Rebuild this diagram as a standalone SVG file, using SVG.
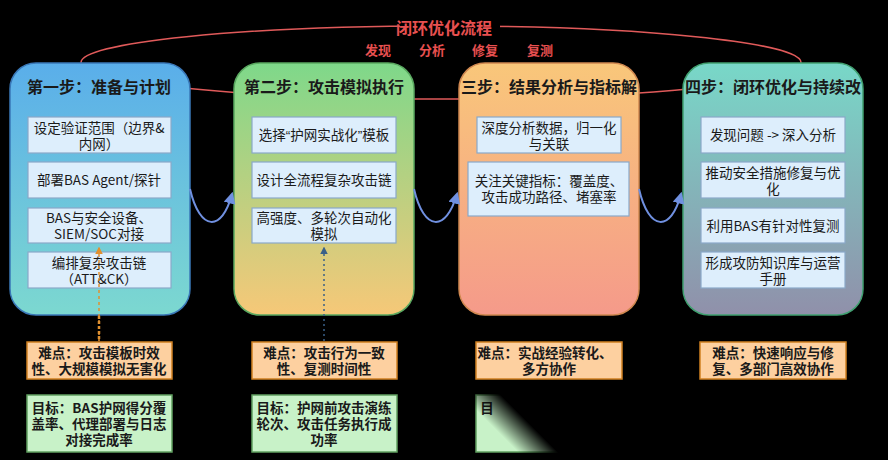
<svg xmlns="http://www.w3.org/2000/svg" width="888" height="460" viewBox="0 0 888 460">
<defs>
<linearGradient id="g1" x1="0" y1="0" x2="0" y2="1"><stop offset="0" stop-color="#5aaeea"/><stop offset="1" stop-color="#7cd8d0"/></linearGradient>
<linearGradient id="g2" x1="0" y1="0" x2="0" y2="1"><stop offset="0" stop-color="#7ed88a"/><stop offset="1" stop-color="#f6c878"/></linearGradient>
<linearGradient id="g3" x1="0" y1="0" x2="0" y2="1"><stop offset="0" stop-color="#f9c77a"/><stop offset="1" stop-color="#f59a8a"/></linearGradient>
<linearGradient id="g4" x1="0" y1="0" x2="0" y2="1"><stop offset="0" stop-color="#78d8c8"/><stop offset="1" stop-color="#9090aa"/></linearGradient>
<linearGradient id="fade" gradientUnits="userSpaceOnUse" x1="500" y1="434" x2="520" y2="414"><stop offset="0" stop-color="#000" stop-opacity="0"/><stop offset="1" stop-color="#000" stop-opacity="1"/></linearGradient>
<marker id="ab" viewBox="0 0 10 10" refX="8" refY="5" markerWidth="6" markerHeight="6" orient="auto"><path d="M0,0 L10,5 L0,10 z" fill="#7090e0"/></marker>
<marker id="ao" viewBox="0 0 10 10" refX="8" refY="5" markerWidth="5" markerHeight="5" orient="auto"><path d="M0,0 L10,5 L0,10 z" fill="#e09030"/></marker>
<marker id="an" viewBox="0 0 10 10" refX="8" refY="5" markerWidth="5" markerHeight="5" orient="auto"><path d="M0,0 L10,5 L0,10 z" fill="#3a6088"/></marker>
</defs>
<style>
text{font-family:"Noto Sans CJK SC","Noto Sans",sans-serif;text-anchor:middle;fill:#1a1a1a}
.hd{font-size:16px;font-weight:bold}
.sb{fill:#ddeefc;stroke:#8aa8c8;stroke-width:1.2}
.st{font-size:13.5px}
.df{fill:#fdd0a0;stroke:#d08020;stroke-width:1.5}
.gl{fill:#c8f2c8;stroke:#60a060;stroke-width:1.5}
.bt{font-size:13.5px;font-weight:bold}
.rd{fill:#e85050;font-weight:bold}
.cv{fill:none;stroke:#7090e0;stroke-width:2}
.q{font-family:"Liberation Sans",sans-serif}
</style>
<rect width="888" height="460" fill="#000"/>
<g id="loop">
<ellipse cx="441" cy="62.5" rx="360" ry="36.5" fill="none" stroke="#e05a5a" stroke-width="1.5"/>
<rect x="400" y="18" width="100" height="20" fill="#000"/>
<text x="444" y="34" class="rd" font-size="16">闭环优化流程</text>
<text x="378" y="55" class="rd" font-size="13">发现</text>
<text x="432" y="55" class="rd" font-size="13">分析</text>
<text x="485" y="55" class="rd" font-size="13">修复</text>
<text x="540" y="55" class="rd" font-size="13">复测</text>
</g>
<g id="stage1">
<rect x="10" y="63" width="180" height="252" rx="26" fill="url(#g1)" stroke="#3a78b8" stroke-width="1.5"/>
<text x="99" y="93" class="hd">第一步：准备与计划</text>
<rect x="28" y="117" width="143" height="36" class="sb"/>
<text x="99" y="133" class="st">设定验证范围（边界&amp;</text>
<text x="99" y="149" class="st">内网）</text>
<rect x="28" y="162" width="143" height="36" class="sb"/>
<text x="99" y="185" class="st">部署BAS Agent/探针</text>
<rect x="28" y="208" width="143" height="35" class="sb"/>
<text x="99" y="223" class="st">BAS与安全设备、</text>
<text x="99" y="239" class="st">SIEM/SOC对接</text>
<rect x="28" y="252" width="143" height="36" class="sb"/>
<text x="99" y="268" class="st">编排复杂攻击链</text>
<text x="99" y="284" class="st">（ATT&amp;CK）</text>
</g>
<g id="stage2">
<rect x="234" y="63" width="180" height="252" rx="26" fill="url(#g2)" stroke="#5aa860" stroke-width="1.5"/>
<text x="324" y="93" class="hd">第二步：攻击模拟执行</text>
<rect x="252" y="117" width="144" height="36" class="sb"/>
<text x="324" y="140" class="st">选择<tspan class="q">“</tspan>护网实战化<tspan class="q">”</tspan>模板</text>
<rect x="252" y="162" width="144" height="36" class="sb"/>
<text x="324" y="185" class="st">设计全流程复杂攻击链</text>
<rect x="252" y="208" width="144" height="35" class="sb"/>
<text x="324" y="223" class="st">高强度、多轮次自动化</text>
<text x="324" y="239" class="st">模拟</text>
</g>
<g id="stage3">
<rect x="459" y="63" width="180" height="252" rx="26" fill="url(#g3)" stroke="#d08850" stroke-width="1.5"/>
<text x="549" y="93" class="hd">三步：结果分析与指标解</text>
<rect x="477" y="117" width="144" height="36" class="sb"/>
<text x="549" y="133" class="st">深度分析数据，归一化</text>
<text x="549" y="149" class="st">与关联</text>
<rect x="468" y="162" width="161" height="54" class="sb"/>
<text x="549" y="186" class="st">关注关键指标：覆盖度、</text>
<text x="549" y="202" class="st">攻击成功路径、堵塞率</text>
</g>
<g id="stage4">
<rect x="683" y="63" width="180" height="252" rx="26" fill="url(#g4)" stroke="#40a070" stroke-width="1.5"/>
<text x="773" y="93" class="hd">四步：闭环优化与持续改</text>
<rect x="701" y="117" width="144" height="36" class="sb"/>
<text x="773" y="140" class="st">发现问题 -&gt; 深入分析</text>
<rect x="701" y="162" width="144" height="36" class="sb"/>
<text x="773" y="178" class="st">推动安全措施修复与优</text>
<text x="773" y="194" class="st">化</text>
<rect x="701" y="208" width="144" height="35" class="sb"/>
<text x="773" y="231" class="st">利用BAS有针对性复测</text>
<rect x="701" y="252" width="144" height="36" class="sb"/>
<text x="773" y="268" class="st">形成攻防知识库与运营</text>
<text x="773" y="284" class="st">手册</text>
</g>
<g id="connectors">
<path class="cv" d="M190,189 C200,232 222,232 232,194" marker-end="url(#ab)"/>
<path class="cv" d="M414,189 C424,232 446,232 457,194" marker-end="url(#ab)"/>
<path class="cv" d="M639,189 C649,232 671,232 681,194" marker-end="url(#ab)"/>
<line x1="99" y1="341" x2="99" y2="248" stroke="#e09030" stroke-width="1.5" stroke-dasharray="3,3" marker-end="url(#ao)"/>
<line x1="99" y1="316" x2="99" y2="341" stroke="#e09030" stroke-width="2.5" stroke-dasharray="3,2"/>
<line x1="324" y1="341" x2="324" y2="248" stroke="#3a6088" stroke-width="1.5" stroke-dasharray="2,3" marker-end="url(#an)"/>
</g>
<g id="diff1"><rect x="27" y="342" width="145" height="37" class="df"/><text x="99" y="358" class="bt">难点：攻击模板时效</text><text x="99" y="374" class="bt">性、大规模模拟无害化</text></g>
<g id="diff2"><rect x="252" y="342" width="145" height="37" class="df"/><text x="324" y="358" class="bt">难点：攻击行为一致</text><text x="324" y="374" class="bt">性、复测时间性</text></g>
<g id="diff3"><rect x="476" y="342" width="146" height="37" class="df"/><text x="545" y="358" class="bt">难点：实战经验转化、</text><text x="549" y="374" class="bt">多方协作</text></g>
<g id="diff4"><rect x="700" y="342" width="146" height="37" class="df"/><text x="773" y="358" class="bt">难点：快速响应与修</text><text x="773" y="374" class="bt">复、多部门高效协作</text></g>
<g id="goal1"><rect x="27" y="395" width="145" height="57" class="gl"/><text x="99" y="413" class="bt">目标：BAS护网得分覆</text><text x="99" y="429" class="bt">盖率、代理部署与日志</text><text x="99" y="445" class="bt">对接完成率</text></g>
<g id="goal2"><rect x="252" y="395" width="145" height="57" class="gl"/><text x="324" y="413" class="bt">目标：护网前攻击演练</text><text x="324" y="429" class="bt">轮次、攻击任务执行成</text><text x="324" y="445" class="bt">功率</text></g>
<g id="goal3"><rect x="476" y="395" width="146" height="57" class="gl"/><text x="487" y="413" class="bt">目</text></g>
<rect x="474" y="390" width="200" height="70" fill="url(#fade)"/>
</svg>
